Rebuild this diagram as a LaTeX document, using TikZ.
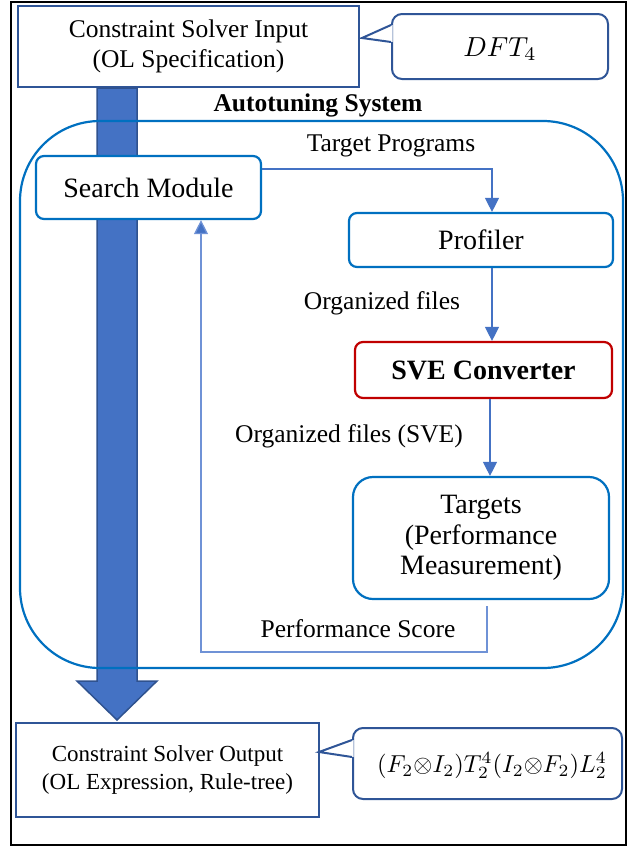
\documentclass[tikz,border=0pt]{standalone}
\usepackage{graphicx}
\usepackage{fontspec}
\setmainfont{Liberation Serif}
\usetikzlibrary{arrows.meta}
\definecolor{boxblue}{HTML}{2F5597}
\definecolor{inblue}{HTML}{0070C0}
\definecolor{conblue}{HTML}{4472C4}
\definecolor{fbblue}{HTML}{6F92D6}
\definecolor{arrowdraw}{HTML}{2F528F}
\definecolor{svered}{HTML}{C00000}
\newcommand\fA{\fontsize{25.5pt}{30pt}\selectfont}
\newcommand\fB{\fontsize{28pt}{30.5pt}\selectfont}
\newcommand\fC{\fontsize{23pt}{28pt}\selectfont}
\newcommand\bigmath[2]{\scalebox{#1}{\fontsize{10pt}{12pt}\selectfont$#2$}}
\tikzset{
  sqbox/.style={draw=boxblue, line width=2pt, fill=white, inner sep=0pt, align=center},
  callout/.style={draw=boxblue, line width=2pt, fill=white, rounded corners=10pt, inner sep=0pt, align=center},
  calloutline/.style={draw=boxblue, line width=2pt},
  rbox/.style={draw=inblue, line width=2.2pt, fill=white, rounded corners=8pt, inner sep=0pt, align=center, font=\fB},
  lbl/.style={inner sep=0pt, font=\fA, align=center},
  conn/.style={draw=conblue, line width=1.3pt, -{Triangle[length=14pt,width=14pt]}},
  fbconn/.style={draw=fbblue, line width=1.3pt, -{Triangle[length=14pt,width=14pt,fill=conblue]}},
  bigarrow/.style={fill=conblue, draw=arrowdraw, line width=1.5pt, line join=miter}
}
\begin{document}
\begin{tikzpicture}[x=1pt, y=-1pt]
\useasboundingbox (0,0) rectangle (633,849);
% outer frame
\draw[line width=2pt, black] (11,1.5) rectangle (625.5,845);

% input box and callout
\node[sqbox, minimum width=341pt, minimum height=81pt, font=\fA] (input) at (188.5,46.5)
  {Constraint Solver Input\\(OL Specification)};
\node[callout, minimum width=216pt, minimum height=65pt] (dft) at (500,46.5) {};
\node[inner sep=0pt] (dfttext) at (500,49) {\bigmath{2.75}{DFT_4}};
\coordinate (tipA) at (362,38);
\fill[white] ([xshift=1.6pt,yshift=21.5pt]dft.west) -- (tipA) -- ([xshift=1.6pt,yshift=4.5pt]dft.west) -- cycle;
\draw[calloutline] ([yshift=21.5pt]dft.west) -- (tipA) -- ([yshift=4.5pt]dft.west);

% output box and callout
\node[sqbox, minimum width=303pt, minimum height=94pt, font=\fC] (output) at (167.5,770)
  {Constraint Solver Output\\(OL Expression, Rule-tree)};
\node[callout, minimum width=269pt, minimum height=71pt] (formula) at (487.5,763.5) {};
\node[inner sep=0pt] (formulatext) at (492,765.5)
  {\bigmath{2.45}{(F_2\mathord{\otimes} I_2)T_2^4(I_2\mathord{\otimes} F_2)L_2^4}};
\coordinate (tipB) at (319,752);
\fill[white] ([xshift=1.6pt,yshift=23.5pt]formula.west) -- (tipB) -- ([xshift=1.6pt,yshift=6.5pt]formula.west) -- cycle;
\draw[calloutline] ([yshift=23.5pt]formula.west) -- (tipB) -- ([yshift=6.5pt]formula.west);

% title
\node[lbl, font=\fA\bfseries] (title) at (318,105) {Autotuning System};

% big arrow from input to output
\coordinate (atop) at ([xshift=-71.5pt]input.south);
\draw[bigarrow] ([xshift=-20pt]atop) -- ([xshift=20pt]atop) -- ([xshift=20pt]atop |- 0,681)
  -- ([xshift=40pt]atop |- 0,681) -- (atop |- 0,720) -- ([xshift=-40pt]atop |- 0,681)
  -- ([xshift=-20pt]atop |- 0,681) -- cycle;

% autotuning container
\node[draw=inblue, line width=2.2pt, rounded corners=80pt, minimum width=603pt, minimum height=547pt, inner sep=0pt] (autobox) at (321.5,394.5) {};

% inner boxes
\node[rbox, minimum width=225pt, minimum height=63pt] (search) at (148.5,187.5) {Search Module};
\node[rbox, minimum width=264pt, minimum height=54pt] (profiler) at (481,240) {Profiler};
\node[rbox, draw=svered, minimum width=257pt, minimum height=56pt, font=\fB\bfseries] (sve) at (483.5,370) {SVE Converter};
\node[rbox, rounded corners=20pt, minimum width=256pt, minimum height=122pt] (targets) at (481,538)
  {Targets\\(Performance\\Measurement)};

% labels
\node[lbl] (ltp) at (391,146) {Target Programs};
\node[lbl] (lof) at (382,303) {Organized files};
\node[lbl] (lofs) at (349,436) {Organized files (SVE)};
\node[lbl] (lps) at (358,629) {Performance Score};

% connectors
\draw[conn] ([yshift=18.5pt]search.east) -| ([xshift=11pt]profiler.north);
\draw[conn] ([xshift=11pt]profiler.south) -- ([xshift=11pt]profiler.south |- sve.north);
\draw[conn] ([xshift=6.5pt]sve.south) -- ([xshift=6.5pt]sve.south |- targets.north);
\coordinate (fb) at (201,652);
\draw[fbconn] ([xshift=6pt,yshift=-6pt]targets.south) |- (fb) -- (fb |- search.south);
\end{tikzpicture}
\end{document}
